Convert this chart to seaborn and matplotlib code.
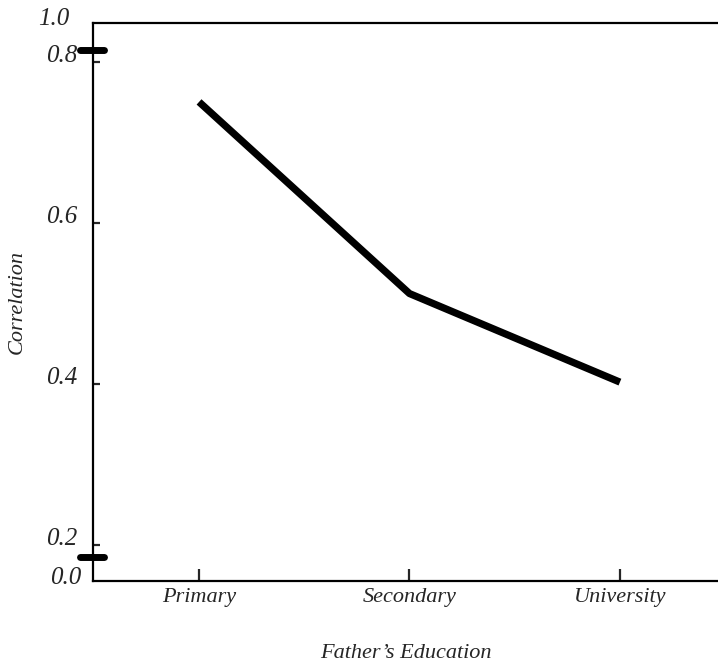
import matplotlib
matplotlib.use("Agg")
import matplotlib.pyplot as plt
import matplotlib.transforms as mtransforms
import seaborn as sns
import pandas as pd

categories = ["Primary", "Secondary", "University"]
correlation = [0.750, 0.512, 0.402]
ytick_values = [0.2, 0.4, 0.6, 0.8]
ytick_labels = ["0.2", "0.4", "0.6", "0.8"]

sns.set_style("ticks")
plt.rcParams["font.family"] = ["Liberation Serif", "DejaVu Serif"]

df = pd.DataFrame({"Father's Education": categories, "Correlation": correlation})

fig = plt.figure(figsize=(7.18, 6.65), dpi=100)
ax = fig.add_axes([0.1295, 0.1263, 0.8705, 0.8391])

sns.lineplot(data=df, x="Father's Education", y="Correlation", sort=False,
             color="black", linewidth=5.2, ax=ax, solid_capstyle="butt")

ax.set_xlim(-0.504, 2.466)
ax.set_ylim(0.155, 0.848)

for side in ["left", "bottom", "top"]:
    ax.spines[side].set_linewidth(1.6)
    ax.spines[side].set_color("black")
ax.spines["right"].set_visible(False)

ax.set_xticks(range(len(categories)))
ax.set_xticklabels(categories, fontsize=16, fontstyle="italic")
ax.set_yticks(ytick_values)
ax.set_yticklabels(ytick_labels, fontsize=18, fontstyle="italic")
ax.tick_params(axis="x", direction="in", length=9, width=1.6, pad=5)
ax.tick_params(axis="y", direction="in", length=5, width=1.6, pad=11)
for lbl in ax.get_yticklabels():
    lbl.set_verticalalignment("baseline")

ax.set_xlabel("Father\u2019s Education", fontsize=16, fontstyle="italic", labelpad=27)
ax.set_ylabel("Correlation", fontsize=16, fontstyle="italic", labelpad=14)

# extra labels for the broken axis ends
ax.text(-0.037, 1.011, "1.0", transform=ax.transAxes, fontsize=18,
        fontstyle="italic", ha="right", va="center_baseline")
ax.text(-0.018, 0.009, "0.0", transform=ax.transAxes, fontsize=18,
        fontstyle="italic", ha="right", va="center_baseline")

# axis break marks
trans = mtransforms.blended_transform_factory(ax.transAxes, ax.transData)
for yb in [0.815, 0.185]:
    ax.plot([-0.02, 0.018], [yb, yb], transform=trans, color="black",
            linewidth=5, solid_capstyle="round", clip_on=False)

fig.savefig("out.png", dpi=100)
